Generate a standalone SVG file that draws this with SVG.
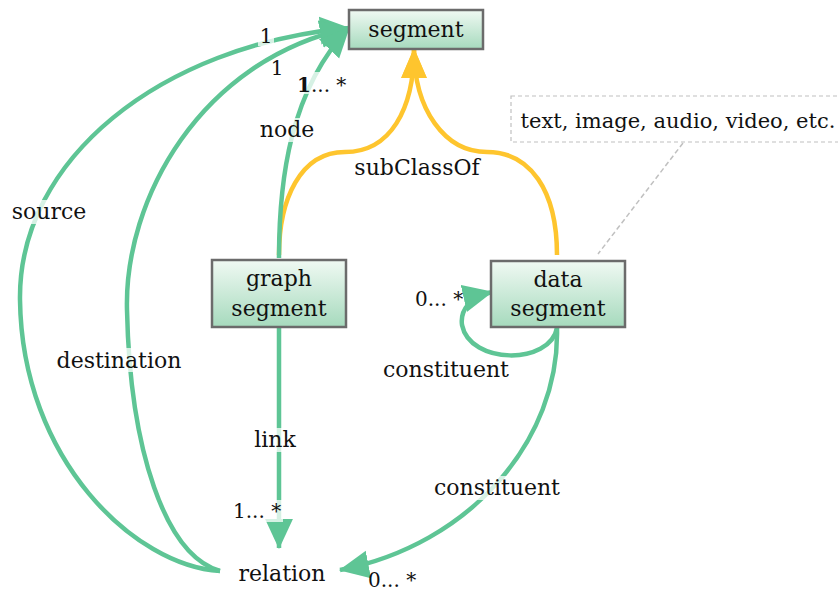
<svg xmlns="http://www.w3.org/2000/svg" width="838" height="592" viewBox="0 0 838 592">
<defs>
<linearGradient id="boxg" x1="0" y1="0" x2="0" y2="1">
<stop offset="0" stop-color="#f0f9f3"/>
<stop offset="1" stop-color="#a6dabd"/>
</linearGradient>
<marker id="ag" markerUnits="userSpaceOnUse" markerWidth="30" markerHeight="30" viewBox="0 0 28 28" refX="27" refY="14" orient="auto">
<path d="M0,1 L28,14 L0,27 Z" fill="#5ec595"/>
</marker>
<marker id="ay" markerUnits="userSpaceOnUse" markerWidth="30" markerHeight="30" viewBox="0 0 28 28" refX="27" refY="14" orient="auto">
<path d="M0,2 L28,14 L0,26 Z" fill="#fec52e"/>
</marker>
</defs>
<style>
text{font-family:"DejaVu Serif","Liberation Serif",serif;font-size:22px;fill:#111}
.n{font-size:20px}
.box{fill:url(#boxg);stroke:#6b6b6b;stroke-width:2.5}
.g{fill:none;stroke:#5ec595;stroke-width:4.5}
.y{fill:none;stroke:#fec52e;stroke-width:4.5}
.lb{fill:#fff;fill-opacity:0.75}
.c{text-anchor:middle}
</style>
<g id="connectors">
<path class="y" d="M279,255 C279,200 300,152 345,152 C390,152 414,110 414,49" marker-end="url(#ay)"/>
<path class="y" d="M557,255 C557,190 530,152 487,152 C445,152 414,110 414,49" marker-end="url(#ay)"/>
<path class="g" d="M220,571 C135,566 22,460 20,300 C18,160 160,45 349,28" marker-end="url(#ag)"/>
<path class="g" d="M220,571 C165,555 130,450 127,310 C124,200 200,60 349,28" marker-end="url(#ag)"/>
<path class="g" d="M279,258 C279,180 290,90 349,28" marker-end="url(#ag)"/>
<path class="g" d="M279,328 L279,548" marker-end="url(#ag)"/>
<path class="g" d="M557,328 C560,440 470,545 340,570" marker-end="url(#ag)"/>
<path class="g" d="M557,328 C550,365 470,365 462,325 C460,310 470,297 492,292" marker-end="url(#ag)"/>
<line x1="683" y1="143" x2="598" y2="254" stroke="#c0c0c0" stroke-width="1.5" stroke-dasharray="5,3"/>
</g>
<g id="labels">
<rect class="lb" x="258" y="26" width="16" height="20"/>
<text x="266" y="43" class="c n">1</text>
<text x="277" y="75" class="c n">1</text>
<rect class="lb" x="296" y="72" width="50" height="22"/>
<text x="297" y="92" class="n"><tspan font-weight="bold">1</tspan>... *</text>
<rect class="lb" x="256" y="118" width="62" height="24"/>
<text x="287" y="137" class="c">node</text>
<text x="417" y="175" class="c">subClassOf</text>
<rect class="lb" x="9" y="200" width="80" height="24"/>
<text x="49" y="219" class="c">source</text>
<rect class="lb" x="54" y="348" width="130" height="24"/>
<text x="119" y="368" class="c">destination</text>
<rect class="lb" x="250" y="428" width="50" height="24"/>
<text x="275" y="447" class="c">link</text>
<rect class="lb" x="231" y="500" width="52" height="22"/>
<text x="233" y="518" class="n">1... *</text>
<text x="415" y="306" class="n">0... *</text>
<text x="446" y="377" class="c">constituent</text>
<rect class="lb" x="432" y="476" width="130" height="24"/>
<text x="497" y="495" class="c">constituent</text>
<text x="368" y="587" class="n">0... *</text>
</g>
<g id="node-segment">
<rect class="box" x="349" y="10" width="134" height="39"/>
<text x="416" y="37" class="c">segment</text>
</g>
<g id="node-graph-segment">
<rect class="box" x="212" y="260" width="134" height="67"/>
<text x="279" y="286" class="c">graph</text>
<text x="279" y="316" class="c">segment</text>
</g>
<g id="node-data-segment">
<rect class="box" x="491" y="261" width="134" height="66"/>
<text x="558" y="287" class="c">data</text>
<text x="558" y="316" class="c">segment</text>
</g>
<g id="node-relation">
<text x="282" y="581" class="c">relation</text>
</g>
<g id="note">
<rect x="511" y="96" width="330" height="46" fill="#fff" stroke="#c0c0c0" stroke-width="1.2" stroke-dasharray="4,3"/>
<text x="678" y="128" class="c" style="font-size:21px">text, image, audio, video, etc.</text>
</g>
</svg>
